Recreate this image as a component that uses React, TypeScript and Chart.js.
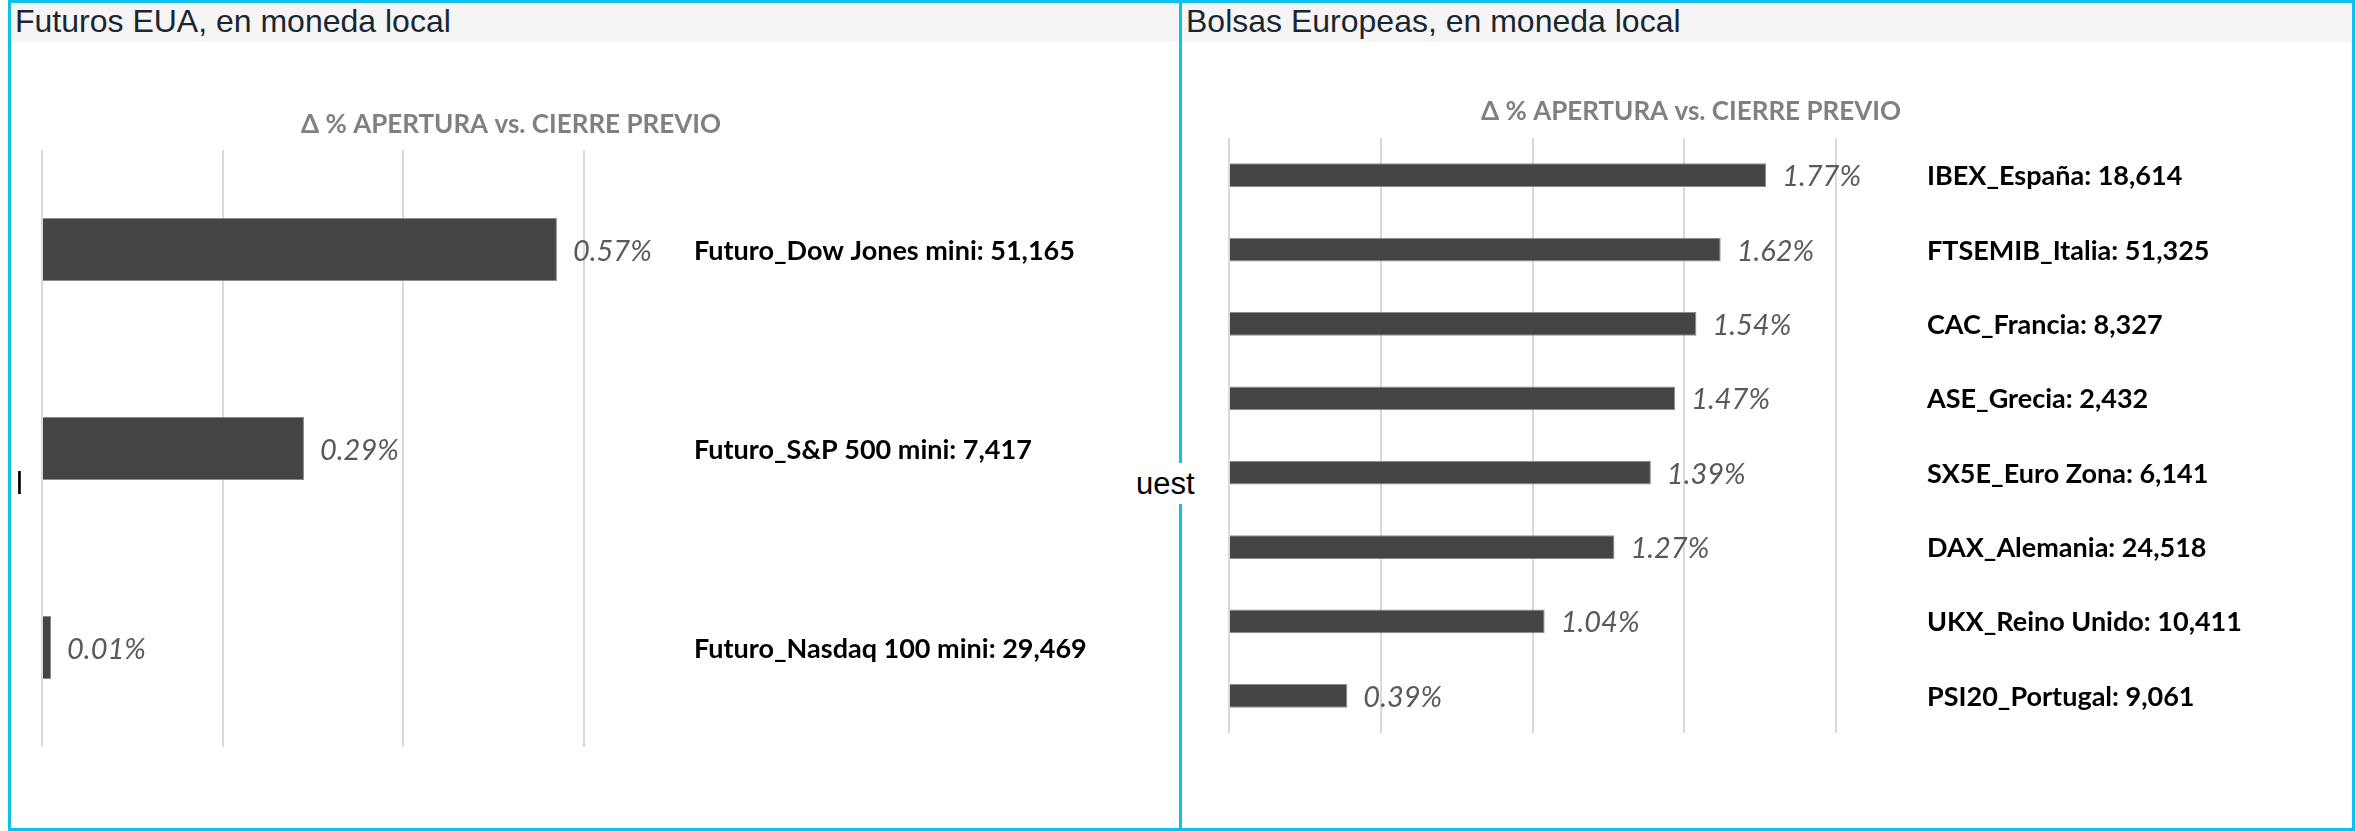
import React, { useEffect, useRef } from "react";
import { Chart, registerables } from "chart.js";

Chart.register(...registerables);

// ---- data ----
const usCategories = ["Futuro_Dow Jones mini", "Futuro_S&P 500 mini", "Futuro_Nasdaq 100 mini"];
const usChanges = [0.57, 0.29, 0.01];
const usLevels = [51165, 7417, 29469];
const usAxis = { max: 0.6, step: 0.2 };

const euCategories = [
  "IBEX_España",
  "FTSEMIB_Italia",
  "CAC_Francia",
  "ASE_Grecia",
  "SX5E_Euro Zona",
  "DAX_Alemania",
  "UKX_Reino Unido",
  "PSI20_Portugal",
];
const euChanges = [1.77, 1.62, 1.54, 1.47, 1.39, 1.27, 1.04, 0.39];
const euLevels = [18614, 51325, 8327, 2432, 6141, 24518, 10411, 9061];
const euAxis = { max: 2.0, step: 0.5 };

const chartTitle = "Δ % APERTURA vs. CIERRE PREVIO";
const panelTitles = ["Futuros EUA, en moneda local", "Bolsas Europeas, en moneda local"];

const CYAN = "#0fc0ec";

type BarChartProps = {
  categories: string[];
  values: number[];
  levels: number[];
  axisMax: number;
  step: number;
  width: number;
  height: number;
  padding: { left: number; right: number; top: number; bottom: number };
  titleX: number;
  titleY: number;
  nameOffset: number;
  barPct: number;
};

function BarChart(p: BarChartProps) {
  const ref = useRef<HTMLCanvasElement | null>(null);
  useEffect(() => {
    if (!ref.current) return;
    const labelsPlugin = {
      id: "customLabels",
      afterDatasetsDraw(chart: any) {
        const ctx = chart.ctx;
        const area = chart.chartArea;
        const meta = chart.getDatasetMeta(0);
        ctx.save();
        // chart title
        ctx.font = "bold 26px Lato";
        ctx.fillStyle = "#808080";
        ctx.textAlign = "center";
        ctx.textBaseline = "alphabetic";
        ctx.fillText(chartTitle, p.titleX, p.titleY);
        meta.data.forEach((bar: any, i: number) => {
          // value labels
          ctx.font = "italic 29px Lato";
          ctx.fillStyle = "#595959";
          ctx.textAlign = "left";
          ctx.fillText(p.values[i].toFixed(2) + "%", bar.x + 16, bar.y + 11);
          // category labels
          ctx.font = "bold 27px Lato";
          ctx.fillStyle = "#000000";
          ctx.fillText(
            p.categories[i] + ": " + p.levels[i].toLocaleString("en-US"),
            area.right + p.nameOffset,
            bar.y + 10
          );
        });
        ctx.restore();
      },
    };
    const chart = new Chart(ref.current, {
      type: "bar",
      data: {
        labels: p.categories,
        datasets: [
          {
            data: p.values,
            backgroundColor: "#444444",
            borderColor: "#8c8c8c",
            borderWidth: 1,
            categoryPercentage: 1,
            barPercentage: p.barPct,
          },
        ],
      },
      options: {
        indexAxis: "y",
        animation: false,
        responsive: false,
        devicePixelRatio: 1,
        layout: { padding: p.padding },
        plugins: {
          legend: { display: false },
          title: { display: false },
          tooltip: { enabled: false },
        },
        scales: {
          x: {
            min: 0,
            max: p.axisMax,
            ticks: { display: false, stepSize: p.step },
            grid: { color: "#d9d9d9", lineWidth: 2, drawTicks: false },
            border: { display: false },
          },
          y: {
            display: false,
            grid: { display: false },
          },
        },
      },
      plugins: [labelsPlugin],
    } as any);
    let alive = true;
    if ((document as any).fonts) {
      Promise.all([
        (document as any).fonts.load("bold 26px Lato"),
        (document as any).fonts.load("italic 29px Lato"),
        (document as any).fonts.load("bold 27px Lato"),
      ]).then(() => {
        if (alive) chart.draw();
      });
    }
    return () => {
      alive = false;
      chart.destroy();
    };
  }, []);
  return <canvas ref={ref} width={p.width} height={p.height} style={{ display: "block", width: p.width, height: p.height }} />;
}

function Panel({ left, width, title, children }: { left: number; width: number; title: string; children: any }) {
  return (
    <div
      style={{
        position: "absolute",
        left,
        top: 0,
        width,
        height: 831,
        border: `3px solid ${CYAN}`,
        boxSizing: "border-box",
        background: "#ffffff",
      }}
    >
      <div
        style={{
          position: "absolute",
          left: 0,
          top: 0,
          right: 0,
          height: 39,
          background: "#f5f5f5",
          fontFamily: "'Liberation Sans', Arial, sans-serif",
          fontSize: 32,
          lineHeight: "37px",
          color: "#1b2631",
          paddingLeft: 4,
          whiteSpace: "nowrap",
        }}
      >
        {title}
      </div>
      <div style={{ position: "absolute", left: 0, top: 39 }}>{children}</div>
    </div>
  );
}

export default function App() {
  return (
    <div style={{ position: "absolute", left: 0, top: 0, width: 2355, height: 831, background: "#ffffff", overflow: "hidden" }}>
      <Panel left={8} width={1174} title={panelTitles[0]}>
        <BarChart
          categories={usCategories}
          values={usChanges}
          levels={usLevels}
          axisMax={usAxis.max}
          step={usAxis.step}
          width={1168}
          height={786}
          padding={{ left: 31, top: 108, right: 595, bottom: 81 }}
          titleX={500}
          titleY={91}
          nameOffset={110}
          barPct={0.317}
        />
      </Panel>
      <Panel left={1179} width={1176} title={panelTitles[1]}>
        <BarChart
          categories={euCategories}
          values={euChanges}
          levels={euLevels}
          axisMax={euAxis.max}
          step={euAxis.step}
          width={1170}
          height={786}
          padding={{ left: 47, top: 96, right: 516, bottom: 95 }}
          titleX={509}
          titleY={78}
          nameOffset={91}
          barPct={0.32}
        />
      </Panel>
      <div
        style={{
          position: "absolute",
          left: 16,
          top: 468,
          fontFamily: "'Liberation Sans', Arial, sans-serif",
          fontSize: 31,
          lineHeight: "31px",
          color: "#000",
        }}
      >
        l
      </div>
      <div
        style={{
          position: "absolute",
          left: 1136,
          top: 463,
          height: 41,
          background: "#ffffff",
          fontFamily: "'Liberation Sans', Arial, sans-serif",
          fontSize: 31,
          lineHeight: "41px",
          color: "#000",
          whiteSpace: "nowrap",
        }}
      >
        uest
      </div>
    </div>
  );
}
